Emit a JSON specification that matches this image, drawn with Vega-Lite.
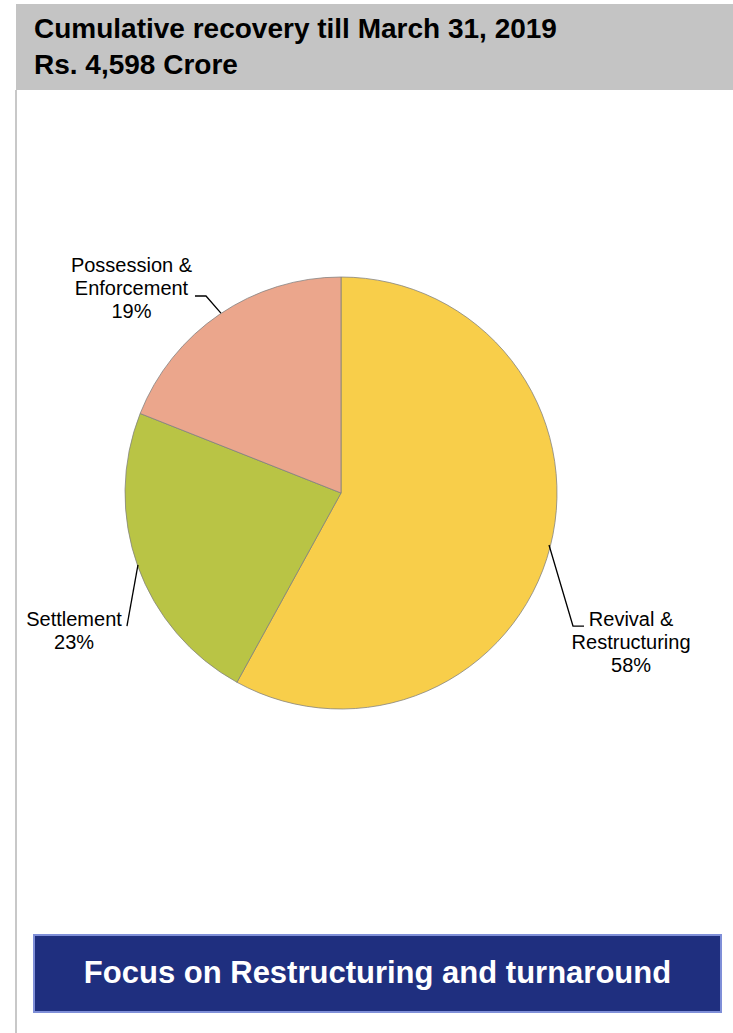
{
  "$schema": "https://vega.github.io/schema/vega-lite/v6.json",
  "background": "white",
  "padding": {"left": 15, "top": 4, "right": 0, "bottom": 0},
  "bounds": "flush",
  "config": {"view": {"stroke": null}, "concat": {"spacing": 0}, "font": "Liberation Sans"},
  "datasets": {
    "slices": [
      {"category": "Revival & Restructuring", "share": 58, "rank": 1},
      {"category": "Settlement", "share": 23, "rank": 2},
      {"category": "Possession & Enforcement", "share": 19, "rank": 3}
    ],
    "labels": [
      {"category": "Revival & Restructuring", "label": "Revival &\nRestructuring\n58%", "lx": 1.343, "ly": -0.588},
      {"category": "Settlement", "label": "Settlement\n23%", "lx": -1.236, "ly": -0.588},
      {"category": "Possession & Enforcement", "label": "Possession &\nEnforcement\n19%", "lx": -0.97, "ly": 1.051}
    ],
    "leaders": [
      {"category": "Revival & Restructuring", "seq": 1, "lx": 0.963, "ly": -0.241},
      {"category": "Revival & Restructuring", "seq": 2, "lx": 1.074, "ly": -0.616},
      {"category": "Revival & Restructuring", "seq": 3, "lx": 1.125, "ly": -0.616},
      {"category": "Settlement", "seq": 1, "lx": -0.94, "ly": -0.333},
      {"category": "Settlement", "seq": 2, "lx": -0.991, "ly": -0.616},
      {"category": "Possession & Enforcement", "seq": 1, "lx": -0.556, "ly": 0.833},
      {"category": "Possession & Enforcement", "seq": 2, "lx": -0.625, "ly": 0.912},
      {"category": "Possession & Enforcement", "seq": 3, "lx": -0.676, "ly": 0.912}
    ]
  },
  "spacing": 0,
  "vconcat": [
    {
      "width": 718,
      "height": 86,
      "view": {"fill": "#C4C4C4", "stroke": null},
      "data": {"values": [{"title": "Cumulative recovery till March 31, 2019\nRs. 4,598 Crore"}]},
      "mark": {"type": "text", "align": "left", "baseline": "middle", "lineBreak": "\n", "fontSize": 28, "fontWeight": "bold", "lineHeight": 36, "dx": 18, "dy": -17, "color": "#000000"},
      "encoding": {
        "x": {"datum": 0, "scale": {"domain": [0, 1]}, "axis": null},
        "text": {"field": "title", "type": "nominal"}
      }
    },
    {
      "width": 650,
      "height": 845,
      "layer": [
        {
          "data": {"values": [{}]},
          "mark": {"type": "rule", "color": "#C8C8C8", "strokeWidth": 2},
          "encoding": {"x": {"datum": 0, "scale": {"domain": [0, 1]}, "axis": null}}
        },
        {
          "data": {"name": "slices"},
          "mark": {"type": "arc", "outerRadius": 216, "stroke": "#7F7F7F", "strokeWidth": 0.75},
          "encoding": {
            "theta": {"field": "share", "type": "quantitative", "stack": true},
            "order": {"field": "rank", "type": "quantitative"},
            "color": {"field": "category", "type": "nominal", "legend": null,
              "scale": {"domain": ["Revival & Restructuring", "Settlement", "Possession & Enforcement"], "range": ["#F8CE4A", "#B9C445", "#EBA68C"]}},
            "x": {"datum": 0, "scale": {"domain": [-1, 1], "range": [109, 541]}, "axis": null},
            "y": {"datum": 0, "scale": {"domain": [-1, 1], "range": [619, 187]}, "axis": null}
          }
        },
        {
          "data": {"name": "leaders"},
          "mark": {"type": "line", "color": "#000000", "strokeWidth": 1.3},
          "encoding": {
            "x": {"field": "lx", "type": "quantitative", "scale": {"domain": [-1, 1], "range": [109, 541]}, "axis": null},
            "y": {"field": "ly", "type": "quantitative", "scale": {"domain": [-1, 1], "range": [619, 187]}, "axis": null},
            "detail": {"field": "category", "type": "nominal"},
            "order": {"field": "seq", "type": "quantitative"}
          }
        },
        {
          "data": {"name": "labels"},
          "mark": {"type": "text", "align": "center", "baseline": "middle", "lineBreak": "\n", "fontSize": 20, "lineHeight": 23, "color": "#000000"},
          "encoding": {
            "x": {"field": "lx", "type": "quantitative", "scale": {"domain": [-1, 1], "range": [109, 541]}, "axis": null},
            "y": {"field": "ly", "type": "quantitative", "scale": {"domain": [-1, 1], "range": [619, 187]}, "axis": null},
            "text": {"field": "label", "type": "nominal"}
          }
        }
      ],
      "resolve": {"scale": {"x": "independent", "y": "independent"}}
    },
    {
      "spacing": 0,
      "hconcat": [
        {
          "width": 17,
          "height": 98,
          "data": {"values": [{}]},
          "mark": {"type": "rule", "color": "#C8C8C8", "strokeWidth": 2},
          "encoding": {"x": {"datum": 0, "scale": {"domain": [0, 1]}, "axis": null}}
        },
        {
          "width": 687,
          "height": 77,
          "view": {"fill": "#1F2F7F", "stroke": "#7F8FD8", "strokeWidth": 2},
          "data": {"values": [{"t": "Focus on Restructuring and turnaround"}]},
          "mark": {"type": "text", "align": "center", "baseline": "middle", "fontSize": 31, "fontWeight": "bold", "color": "#FFFFFF"},
          "encoding": {"text": {"field": "t", "type": "nominal"}}
        }
      ]
    }
  ]
}
